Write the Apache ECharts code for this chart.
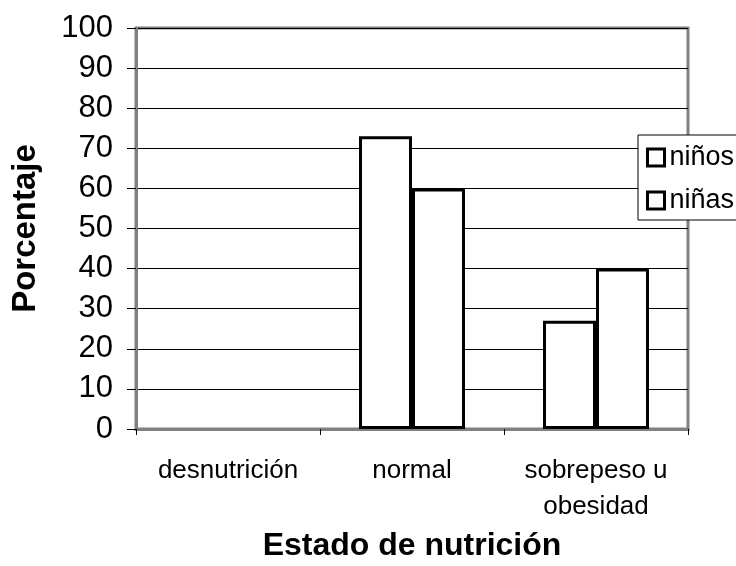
<!DOCTYPE html>
<html>
<head>
<meta charset="utf-8">
<script src="https://cdn.jsdelivr.net/npm/echarts@6/dist/echarts.min.js"></script>
<style>
  html, body { margin: 0; padding: 0; background: #ffffff; }
  #chart { width: 736px; height: 566px; }
</style>
</head>
<body>
<div id="chart"></div>
<script>
// Estado de nutrición por sexo (porcentaje)
const categories = ['desnutrición', 'normal', 'sobrepeso u\nobesidad'];
const ninos = [0, 73, 27];
const ninas = [0, 60, 40];
const seriesNames = ['niños', 'niñas'];
const yTicks = { min: 0, max: 100, interval: 10 };

const FONT = "'Liberation Sans', Arial, sans-serif";

// zero-height bars carry no outline
function toItems(values) {
  return values.map(v => v === 0
    ? { value: v, itemStyle: { borderWidth: 0 } }
    : { value: v });
}

const barStyle = { color: '#ffffff', borderColor: '#000000', borderWidth: 3 };

const chart = echarts.init(document.getElementById('chart'), null, { renderer: 'canvas' });
chart.setOption({
  animation: false,
  backgroundColor: '#ffffff',
  grid: {
    left: 136, right: 48, top: 28, bottom: 137,
    outerBoundsMode: 'none',
    containLabel: false,
    show: true, borderColor: '#808080', borderWidth: 3, backgroundColor: 'transparent'
  },
  legend: {
    orient: 'vertical',
    left: 638, top: 135,
    data: seriesNames,
    icon: 'rect',
    itemWidth: 17, itemHeight: 17,
    itemGap: 16,
    padding: [9, 30, 6, 8],
    backgroundColor: '#ffffff',
    borderColor: '#000000', borderWidth: 1,
    borderRadius: 0,
    itemStyle: { color: '#ffffff', borderColor: '#000000', borderWidth: 3 },
    textStyle: { fontFamily: FONT, fontSize: 27, color: '#000000', padding: [0, 0, 0, 0] }
  },
  xAxis: {
    type: 'category',
    data: categories,
    name: 'Estado de nutrición',
    nameLocation: 'middle',
    nameGap: 100,
    nameTextStyle: { fontFamily: FONT, fontSize: 32, fontWeight: 'bold', color: '#000000' },
    axisLine: { show: true, lineStyle: { color: '#808080', width: 3 } },
    axisTick: { show: true, length: 6, lineStyle: { color: '#000000', width: 1 } },
    axisLabel: {
      fontFamily: FONT, fontSize: 26, color: '#000000',
      margin: 24, lineHeight: 36, interval: 0
    },
    splitLine: { show: false }
  },
  yAxis: {
    type: 'value',
    min: yTicks.min, max: yTicks.max, interval: yTicks.interval,
    name: 'Porcentaje',
    nameLocation: 'middle',
    nameRotate: 90,
    nameGap: 94,
    nameTextStyle: { fontFamily: FONT, fontSize: 33, fontWeight: 'bold', color: '#000000' },
    axisLine: { show: true, lineStyle: { color: '#808080', width: 3 } },
    axisTick: { show: true, length: 9, lineStyle: { color: '#000000', width: 1 } },
    axisLabel: { fontFamily: FONT, fontSize: 31, color: '#000000', margin: 23 },
    splitLine: { show: true, lineStyle: { color: '#000000', width: 1 } }
  },
  series: [
    {
      name: seriesNames[0], type: 'bar', data: toItems(ninos),
      barWidth: 53, barGap: '0%', itemStyle: barStyle, z: 3
    },
    {
      name: seriesNames[1], type: 'bar', data: toItems(ninas),
      barWidth: 53, barGap: '0%', itemStyle: barStyle, z: 3
    }
  ]
});
</script>
</body>
</html>
